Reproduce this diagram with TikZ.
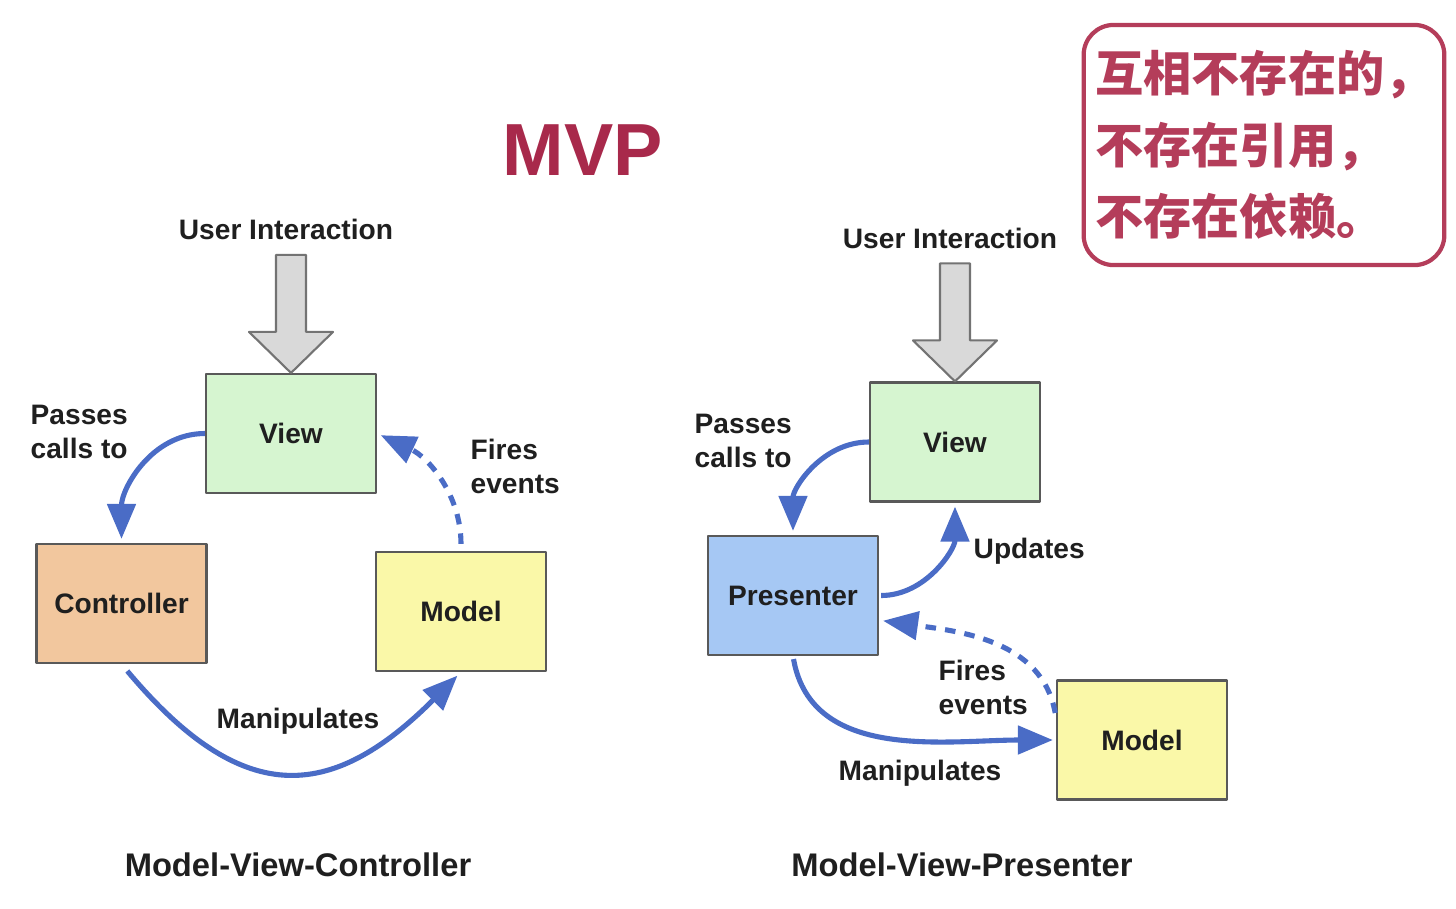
\documentclass[tikz,border=0pt]{standalone}
\usepackage{fontspec}
\setsansfont{Liberation Sans}
\newfontfamily\cjk{Noto Sans CJK SC}
\usetikzlibrary{arrows.meta}
\definecolor{callblue}{HTML}{4A6CC6}
\definecolor{slidered}{HTML}{A8294B}
\definecolor{notered}{HTML}{B43D5A}
\definecolor{viewgreen}{HTML}{D6F5D0}
\definecolor{ctrlorange}{HTML}{F2C79E}
\definecolor{modelyellow}{HTML}{FAF8A8}
\definecolor{presblue}{HTML}{A6C8F4}
\tikzset{
  box/.style={draw=black!65, line width=0.6pt, minimum width=1.7cm, minimum height=1.19cm, inner sep=0pt},
  call/.style={->, draw=callblue, line width=1.45pt},
  event/.style={call, dash pattern=on 3pt off 2.6pt},
  uiarrow/.style={draw=black!55, fill=black!15, line width=0.6pt},
  lbl/.style={align=left, inner sep=0pt},
}
\begin{document}
\begin{tikzpicture}[x=0.01cm, y=-0.01cm, font=\sffamily\bfseries\fontsize{8}{9.7}\selectfont, text=black!88, line join=round, >={Triangle[length=3.5mm,width=2.8mm]}]
\useasboundingbox (0,0) rectangle (1456,908);
\def\big{\sffamily\bfseries\fontsize{9.3}{11}\selectfont}
% titles
\node[text=slidered, font=\sffamily\bfseries\fontsize{21}{25}\selectfont] (title) at (583,150) {MVP};
\node[draw=notered, line width=1.2pt, rounded corners=0.3cm, minimum width=3.58cm, minimum height=2.4cm,
  text=notered, align=left, font=\cjk\bfseries\fontsize{13.7}{20.3}\selectfont] (note) at (1264,145)
  {互相不存在的，\\不存在引用，\\不存在依赖。};

% Model-View-Controller
\node[box, fill=viewgreen] (view1) at (291,433.5) {View};
\node[box, fill=ctrlorange] (ctrl) at (121.5,603.5) {Controller};
\node[box, fill=modelyellow] (model1) at (461,611.5) {Model};
\node (ui1) at (286,229) {User Interaction};
\draw[uiarrow] (view1.north) -- ++(-42,-41) -- ++(27,0) -- ++(0,-77) -- ++(30,0) -- ++(0,77) -- ++(27,0) -- cycle;
\node[lbl, anchor=west] (pass1) at (30,432) {Passes\\calls to};
\node[lbl, anchor=west] (fire1) at (470,466) {Fires\\events};
\node (manip1) at (298,721) {Manipulates};
\node[font=\big] (mvc) at (298,865) {Model-View-Controller};
\draw[call, shorten >=0.4mm] (view1.west) to[out=180,in=90] (ctrl.north);
\draw[event, shorten <=0.7mm, shorten >=0.4mm] (model1.north) to[out=90,in=-25] (view1.east);
\draw[call, shorten <=0.9mm, shorten >=0.5mm] (ctrl.south) to[out=-50,in=-135,looseness=1.4] (model1.south);

% Model-View-Presenter
\node[box, fill=viewgreen] (view2) at (955,442) {View};
\node[box, fill=presblue] (pres) at (793,595.5) {Presenter};
\node[box, fill=modelyellow] (model2) at (1142,740) {Model};
\node (ui2) at (950,238) {User Interaction};
\draw[uiarrow] (view2.north) -- ++(-42,-41) -- ++(27,0) -- ++(0,-77) -- ++(30,0) -- ++(0,77) -- ++(27,0) -- cycle;
\node[lbl, anchor=west] (pass2) at (694,441) {Passes\\calls to};
\node[lbl, anchor=west] (upd) at (973,551) {Updates};
\node[lbl, anchor=west] (fire2) at (938,687) {Fires\\events};
\node (manip2) at (920,773) {Manipulates};
\node[font=\big] (mvpname) at (962,865) {Model-View-Presenter};
\draw[call, shorten >=0.4mm] (view2.west) to[out=180,in=90] (pres.north);
\draw[call, shorten <=0.2mm, shorten >=0.4mm] (pres.east) to[out=0,in=-90] (view2.south);
\draw[event, shorten <=0.4mm, shorten >=0.4mm] (model2.165) to[out=100,in=-8] (pres.-16);
\draw[call, shorten <=0.3mm, shorten >=0.3mm] (pres.south) to[out=-80,in=180] (model2.west);
\end{tikzpicture}
\end{document}
